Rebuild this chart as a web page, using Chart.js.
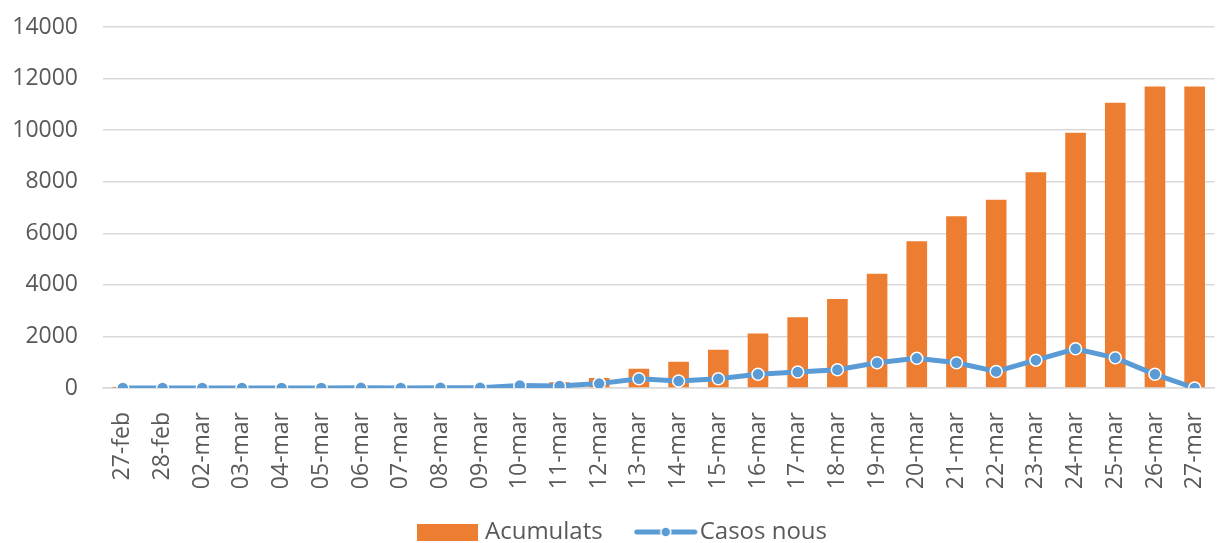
<!DOCTYPE html>
<html>
<head>
<meta charset="utf-8">
<script src="https://cdn.jsdelivr.net/npm/chart.js@4"></script>
<style>
  body { margin: 0; background: #fff; }
  #wrap { width: 1222px; height: 543px; position: relative; }
</style>
</head>
<body>
<div id="wrap"><canvas id="chart"></canvas></div>
<script>
const dates = [
  '27-feb', '28-feb', '02-mar', '03-mar', '04-mar', '05-mar', '06-mar',
  '07-mar', '08-mar', '09-mar', '10-mar', '11-mar', '12-mar', '13-mar',
  '14-mar', '15-mar', '16-mar', '17-mar', '18-mar', '19-mar', '20-mar',
  '21-mar', '22-mar', '23-mar', '24-mar', '25-mar', '26-mar', '27-mar'
];
const acumulats = [
  3, 5, 8, 12, 15, 18, 24, 28, 49, 75, 140, 220, 390, 750,
  1020, 1480, 2110, 2740, 3450, 4430, 5690, 6660, 7300, 8370,
  9900, 11060, 11690, 11690
];
const casosNous = [
  2, 1, 3, 4, 3, 3, 6, 4, 9, 12, 100, 80, 170, 360,
  270, 360, 530, 620, 710, 980, 1150, 980, 640, 1080,
  1520, 1170, 530, 0
];
const yTicksMax = 14000;
const yStep = 2000;

const ORANGE = '#ED7D31';
const BLUE = '#5B9BD5';
const TEXT = '#595959';
const FONT = "'Open Sans', sans-serif";

// legend symbols drawn by hand, like the Excel ones (content sits at the right of the image)
function boxSymbol() {
  const c = document.createElement('canvas');
  c.width = 67; c.height = 17;
  const g = c.getContext('2d');
  g.fillStyle = ORANGE;
  g.fillRect(6, 0, 61, 17);
  return c;
}
function lineSymbol() {
  const c = document.createElement('canvas');
  c.width = 77; c.height = 12;
  const g = c.getContext('2d');
  g.strokeStyle = BLUE;
  g.lineWidth = 5;
  g.lineCap = 'round';
  g.beginPath(); g.moveTo(16, 6); g.lineTo(74, 6); g.stroke();
  g.fillStyle = BLUE;
  g.strokeStyle = '#fff';
  g.lineWidth = 1.5;
  g.beginPath(); g.arc(45, 6, 5, 0, Math.PI * 2); g.fill(); g.stroke();
  return c;
}
const symbols = [boxSymbol(), lineSymbol()];

// nudge the legend a little right, as in the original
const legendShift = {
  id: 'legendShift',
  afterLayout(chart) {
    const lg = chart.legend;
    lg.left += 14;
    lg.right += 14;
  }
};

new Chart(document.getElementById('chart'), {
  data: {
    labels: dates,
    datasets: [{
      type: 'bar',
      label: 'Acumulats',
      data: acumulats,
      backgroundColor: ORANGE,
      barPercentage: 0.52,
      categoryPercentage: 1,
      order: 2
    }, {
      type: 'line',
      label: 'Casos nous',
      data: casosNous,
      borderColor: BLUE,
      borderWidth: 5,
      pointRadius: 6,
      pointBackgroundColor: BLUE,
      pointBorderColor: '#fff',
      pointBorderWidth: 1.5,
      tension: 0,
      order: 1
    }]
  },
  plugins: [legendShift],
  options: {
    responsive: true,
    maintainAspectRatio: false,
    animation: false,
    layout: { padding: { top: 27, right: 7, left: 0, bottom: -11 } },
    plugins: {
      tooltip: { enabled: false },
      legend: {
        position: 'bottom',
        labels: {
          usePointStyle: true,
          pointStyleWidth: 57,
          padding: 28,
          color: TEXT,
          font: { family: FONT, size: 24 },
          generateLabels(chart) {
            return chart.data.datasets.map((ds, i) => ({
              text: ds.label,
              pointStyle: symbols[i],
              fillStyle: 'transparent',
              strokeStyle: 'transparent',
              lineWidth: 0,
              fontColor: TEXT,
              datasetIndex: i,
              hidden: false
            }));
          }
        }
      }
    },
    scales: {
      x: {
        grid: { display: false, drawTicks: false },
        border: { display: true, color: '#d9d9d9', width: 1.5 },
        ticks: {
          color: TEXT,
          font: { family: FONT, size: 23 },
          minRotation: 90,
          maxRotation: 90,
          padding: 24,
          autoSkip: false
        },
        afterFit(scale) {
          scale.height = 104;
          scale.paddingLeft = 0;
          scale.paddingRight = 0;
        }
      },
      y: {
        min: 0,
        max: yTicksMax,
        grid: { color: '#d9d9d9', lineWidth: 1.5, drawTicks: false },
        border: { display: false },
        ticks: {
          stepSize: yStep,
          color: TEXT,
          font: { family: FONT, size: 23 },
          padding: 25,
          callback: (v) => String(v)
        },
        afterFit(scale) {
          scale.width = 103;
          scale.paddingTop = 0;
          scale.paddingBottom = 0;
        }
      }
    }
  }
});
</script>
</body>
</html>
